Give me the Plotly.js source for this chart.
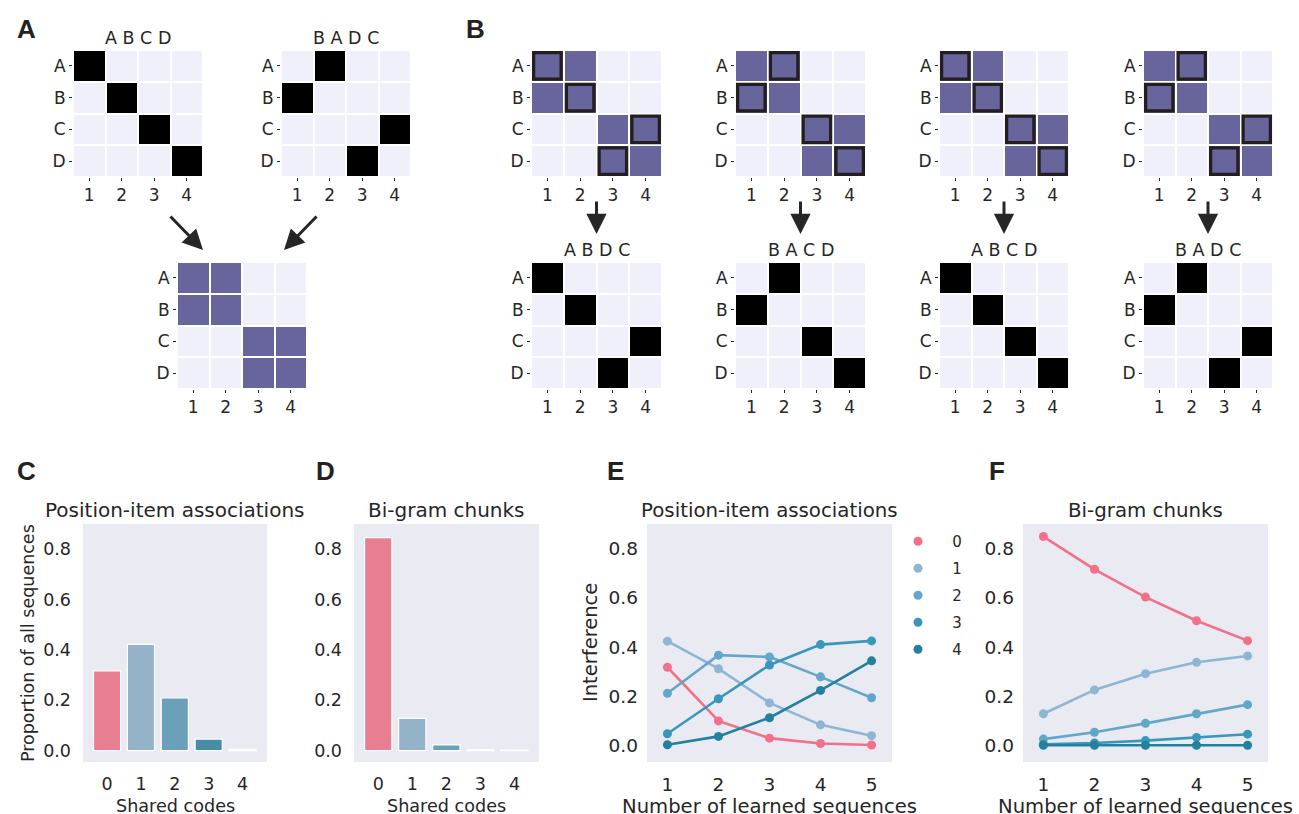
<!DOCTYPE html>
<html><head><meta charset="utf-8">
<script src="https://cdn.plot.ly/plotly-3.0.1.min.js"></script>
<style>html,body{margin:0;padding:0;background:#fff;}#chart{width:1299px;height:814px;}</style>
</head><body><div id="chart"></div>
<script>
// ---------------- data ----------------
const items = ['A', 'B', 'C', 'D'];
const positions = [1, 2, 3, 4];
const seqA1 = ['A', 'B', 'C', 'D'];
const seqA2 = ['B', 'A', 'D', 'C'];
const seqB1 = ['A', 'B', 'D', 'C'];
const seqB2 = ['B', 'A', 'C', 'D'];
const seqB3 = ['A', 'B', 'C', 'D'];
const seqB4 = ['B', 'A', 'D', 'C'];

const sharedCodes = [0, 1, 2, 3, 4];
const propPosItem = [0.317, 0.422, 0.210, 0.046, 0.005];
const propBigram = [0.846, 0.128, 0.023, 0.004, 0.002];

const nLearned = [1, 2, 3, 4, 5];
const seriesNames = ['0', '1', '2', '3', '4'];
const posItem0 = [0.318, 0.100, 0.030, 0.008, 0.002];
const posItem1 = [0.424, 0.312, 0.173, 0.084, 0.040];
const posItem2 = [0.212, 0.367, 0.360, 0.279, 0.194];
const posItem3 = [0.048, 0.190, 0.327, 0.410, 0.425];
const posItem4 = [0.003, 0.037, 0.113, 0.224, 0.344];
const bigram0 = [0.849, 0.716, 0.603, 0.507, 0.426];
const bigram1 = [0.129, 0.226, 0.292, 0.338, 0.364];
const bigram2 = [0.026, 0.054, 0.090, 0.129, 0.166];
const bigram3 = [0.005, 0.010, 0.020, 0.033, 0.046];
const bigram4 = [0.001, 0.001, 0.001, 0.001, 0.001];

// ---------------- styling ----------------
const W = 1299, H = 814;
const ink = '#262626';
const lightCell = '#F0F0FA', purple = '#68649C';
const barColors = ['#E77F91', '#94B3C8', '#6AA0B8', '#488CA6', '#3D7E9B'];
const lineColors = ['#F27089', '#8DB6D4', '#63A7C8', '#3A97BA', '#23809E'];
const FONT = 'DejaVu Sans, sans-serif';

const data = [], shapes = [], annotations = [];
const layout = {
  width: W, height: H, margin: {l: 0, r: 0, t: 0, b: 0, autoexpand: false},
  paper_bgcolor: '#ffffff', plot_bgcolor: '#ffffff',
  font: {family: FONT, color: ink, size: 16},
  showlegend: true
};
function xd(a, b) { return [a / W, b / W]; }
function yd(t, b) { return [1 - b / H, 1 - t / H]; }
function px(x) { return x / W; }
function py(y) { return 1 - y / H; }

let k = 0;
function addAxes(xdom, ydom, xo, yo) {
  k++;
  const xid = k === 1 ? 'x' : 'x' + k, yid = k === 1 ? 'y' : 'y' + k;
  layout[k === 1 ? 'xaxis' : 'xaxis' + k] = Object.assign({domain: xdom, anchor: yid, showgrid: false, zeroline: false, showline: false, fixedrange: true}, xo);
  layout[k === 1 ? 'yaxis' : 'yaxis' + k] = Object.assign({domain: ydom, anchor: xid, showgrid: false, zeroline: false, showline: false, fixedrange: true}, yo);
  return {x: xid, y: yid};
}
function text(t, x, y, size, extra) {
  annotations.push(Object.assign({text: t, xref: 'paper', yref: 'paper', x: px(x), y: py(y), showarrow: false,
    xanchor: 'center', yanchor: 'middle', font: {family: FONT, size: size, color: ink}}, extra || {}));
}

// ---------------- heatmaps ----------------
function seqMatrix(seq) { return items.map(it => positions.map((p, i) => seq[i] === it ? 1 : 0)); }
function unionMatrix(a, b) { return a.map((row, r) => row.map((v, c) => Math.max(v, b[r][c]))); }
const rowIdx = items.map((it, i) => i);
const heatX = {range: [0.5, 4.5], tickvals: positions, ticks: 'outside', ticklen: 3, tickwidth: 1, tickcolor: ink, tickfont: {size: 17, color: ink}};
const heatY = {range: [3.5, -0.5], tickvals: rowIdx, ticktext: items, ticks: 'outside', ticklen: 3, tickwidth: 1, tickcolor: ink, tickfont: {size: 17, color: ink}};

function addHeatmap(xr, yr, z, color, title, outlineSeq) {
  const ids = addAxes(xd(xr[0], xr[1]), yd(yr[0], yr[1]), heatX, heatY);
  data.push({type: 'heatmap', z: z, x: positions, y: rowIdx, xaxis: ids.x, yaxis: ids.y,
    colorscale: [[0, lightCell], [1, color]], zmin: 0, zmax: 1, showscale: false, xgap: 2, ygap: 2, hoverinfo: 'skip'});
  if (title) text(title, (xr[0] + xr[1]) / 2, yr[0] - 12, 17.5);
  if (outlineSeq) outlineSeq.forEach((it, c) => {
    const r = items.indexOf(it), d = 0.08;
    shapes.push({type: 'rect', xref: ids.x, yref: ids.y, x0: positions[c] - 0.5 + d, x1: positions[c] + 0.5 - d,
      y0: r - 0.5 + d, y1: r + 0.5 - d, line: {color: '#231F20', width: 3.3}, layer: 'above'});
  });
  return ids;
}
const mA1 = seqMatrix(seqA1), mA2 = seqMatrix(seqA2), mUnion = unionMatrix(mA1, mA2);
addHeatmap([73, 203], [50, 177], mA1, '#000000', seqA1.join(' '));
addHeatmap([281, 411], [50, 177], mA2, '#000000', seqA2.join(' '));
addHeatmap([177, 307], [262, 389], mUnion, purple, null);

const bCols = [[531, 662], [735, 866], [939, 1069], [1143, 1273]];
[seqB1, seqB2, seqB3, seqB4].forEach((s, i) => {
  addHeatmap(bCols[i], [50, 177], mUnion, purple, null, s);
  addHeatmap(bCols[i], [262, 389], seqMatrix(s), '#000000', s.join(' '));
  const cx = (bCols[i][0] + bCols[i][1]) / 2;
  annotations.push({text: '', xref: 'paper', yref: 'paper', x: px(cx), y: py(234), ax: 0, ay: -34,
    showarrow: true, arrowhead: 2, arrowsize: 1.35, arrowwidth: 3, arrowcolor: ink, standoff: 0});
});
// arrows in panel A
annotations.push({text: '', xref: 'paper', yref: 'paper', x: px(203), y: py(250), ax: -34, ay: -35,
  showarrow: true, arrowhead: 2, arrowsize: 1.35, arrowwidth: 3, arrowcolor: ink, standoff: 0});
annotations.push({text: '', xref: 'paper', yref: 'paper', x: px(284), y: py(250), ax: 34, ay: -35,
  showarrow: true, arrowhead: 2, arrowsize: 1.35, arrowwidth: 3, arrowcolor: ink, standoff: 0});

// ---------------- bar panels ----------------
function darkBg(ids) {
  shapes.push({type: 'rect', xref: ids.x + ' domain', yref: ids.y + ' domain', x0: 0, x1: 1, y0: 0, y1: 1,
    fillcolor: '#EAEAF2', line: {width: 0}, layer: 'below'});
}
const yTicks = [0, 0.2, 0.4, 0.6, 0.8];
function addBarPanel(xr, vals, title) {
  const ids = addAxes(xd(xr[0], xr[1]), yd(524, 762),
    {range: [-0.71, 4.72], tickvals: sharedCodes, ticks: '', tickfont: {size: 17.5, color: ink}, ticklabelstandoff: 9},
    {range: [-0.045, 0.9], tickvals: yTicks, tickformat: '.1f', ticks: '', tickfont: {size: 17.5, color: ink}, ticklabelstandoff: 11});
  darkBg(ids);
  data.push({type: 'bar', x: sharedCodes, y: vals, xaxis: ids.x, yaxis: ids.y, width: 0.8,
    marker: {color: barColors, line: {color: '#ffffff', width: 1.2}}, showlegend: false, hoverinfo: 'skip'});
  text(title, (xr[0] + xr[1]) / 2, 510, 20);
  text('Shared codes', (xr[0] + xr[1]) / 2, 806, 17.6);
}
addBarPanel([83, 267], propPosItem, 'Position-item associations');
addBarPanel([354, 539], propBigram, 'Bi-gram chunks');
text('Proportion of all sequences', 28, 643, 17.5, {textangle: -90});

// ---------------- line panels ----------------
function addLinePanel(xr, series, title, legendId) {
  const ids = addAxes(xd(xr[0], xr[1]), yd(524, 762),
    {range: [0.6, 5.4], tickvals: nLearned, ticks: '', tickfont: {size: 18.5, color: ink}, ticklabelstandoff: 9},
    {range: [-0.067, 0.9], tickvals: yTicks, tickformat: '.1f', ticks: '', tickfont: {size: 18.5, color: ink}, ticklabelstandoff: 8});
  darkBg(ids);
  series.forEach((vals, i) => {
    data.push({type: 'scatter', mode: 'lines', x: nLearned, y: vals, xaxis: ids.x, yaxis: ids.y,
      line: {color: lineColors[i], width: 2.6}, showlegend: false, legendgroup: legendId + i, hoverinfo: 'skip'});
    data.push({type: 'scatter', mode: 'markers', x: nLearned, y: vals, xaxis: ids.x, yaxis: ids.y,
      marker: {color: lineColors[i], size: 9}, name: '\u00a0\u00a0\u00a0' + seriesNames[i],
      legend: legendId, legendgroup: legendId + i, showlegend: true, hoverinfo: 'skip'});
  });
  text(title, (xr[0] + xr[1]) / 2, 511, 19.8);
  text('Number of learned sequences', (xr[0] + xr[1]) / 2, 806, 19.6);
}
addLinePanel([647, 892], [posItem0, posItem1, posItem2, posItem3, posItem4], 'Position-item associations', 'legend');
addLinePanel([1023, 1268], [bigram0, bigram1, bigram2, bigram3, bigram4], 'Bi-gram chunks', 'legend2');
text('Interference', 590, 643, 19.5, {textangle: -90});

const legendStyle = {xanchor: 'left', yanchor: 'top', bgcolor: 'rgba(0,0,0,0)', borderwidth: 0,
  font: {family: FONT, size: 15, color: ink}, traceorder: 'grouped', tracegroupgap: 4.5, itemsizing: 'trace'};
layout.legend = Object.assign({x: px(898), y: py(525)}, legendStyle);
layout.legend2 = Object.assign({x: px(1284), y: py(525)}, legendStyle);

// ---------------- panel letters ----------------
const letterFont = {family: 'Liberation Sans, Arial, sans-serif', size: 26, color: '#222222', weight: 700};
[['A', 26, 29], ['B', 476, 29], ['C', 26, 471], ['D', 325, 471], ['E', 615, 471], ['F', 997, 471]].forEach(l => {
  annotations.push({text: l[0], xref: 'paper', yref: 'paper', x: px(l[1]), y: py(l[2]), showarrow: false,
    xanchor: 'center', yanchor: 'middle', font: letterFont});
});

layout.shapes = shapes;
layout.annotations = annotations;
Plotly.newPlot('chart', data, layout, {displayModeBar: false, staticPlot: true});
</script>
</body></html>
